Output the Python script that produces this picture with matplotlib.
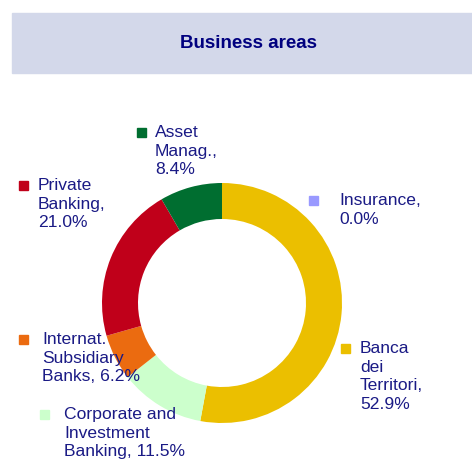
import matplotlib.pyplot as plt
from matplotlib.patches import Rectangle

plt.rcParams['font.family'] = ['Liberation Sans', 'DejaVu Sans']

labels = ['Banca\ndei\nTerritori,\n52.9%', 'Corporate and\nInvestment\nBanking, 11.5%',
          'Internat.\nSubsidiary\nBanks, 6.2%', 'Private\nBanking,\n21.0%',
          'Asset\nManag.,\n8.4%', 'Insurance,\n0.0%']
values = [52.9, 11.5, 6.2, 21.0, 8.4, 0.0]
colors = ['#EBBF00', '#CCFFCC', '#EB6B10', '#C0001A', '#006E30', '#9999FF']
# label anchor (pixels from top-left): marker x, marker y, text x
label_pos = [(341, 344, 360), (40, 410, 64), (19, 335, 42),
             (19, 181, 38), (137, 128, 155), (309, 196, 339)]

W, H = 472, 468
fig = plt.figure(figsize=(W / 100, H / 100), dpi=100)

# title band
fig.patches.append(Rectangle((12 / W, 1 - 73 / H), (W - 12) / W, 60 / H,
                             transform=fig.transFigure, color='#D3D8EA', zorder=0))
fig.text(248 / W, 1 - 43 / H, 'Business areas', ha='center', va='center',
         fontsize=13.5, fontweight='bold', color='#00007F')

ax = fig.add_axes([102 / W, 45 / H, 240 / W, 240 / H])
ax.pie(values, colors=colors, startangle=90, counterclock=False, radius=1,
       wedgeprops=dict(width=0.3, linewidth=0))
ax.set_xlim(-1, 1)
ax.set_ylim(-1, 1)
ax.set_aspect('equal')
ax.axis('off')

for lab, col, (mx, my, tx) in zip(labels, colors, label_pos):
    fig.patches.append(Rectangle((mx / W, 1 - (my + 9) / H), 9 / W, 9 / H,
                                 transform=fig.transFigure, color=col))
    fig.text(tx / W, 1 - (my - 3) / H, lab, ha='left', va='top', fontsize=12.6,
             color='#1A1A85', linespacing=1.3)

plt.savefig('out.png', dpi=100)
